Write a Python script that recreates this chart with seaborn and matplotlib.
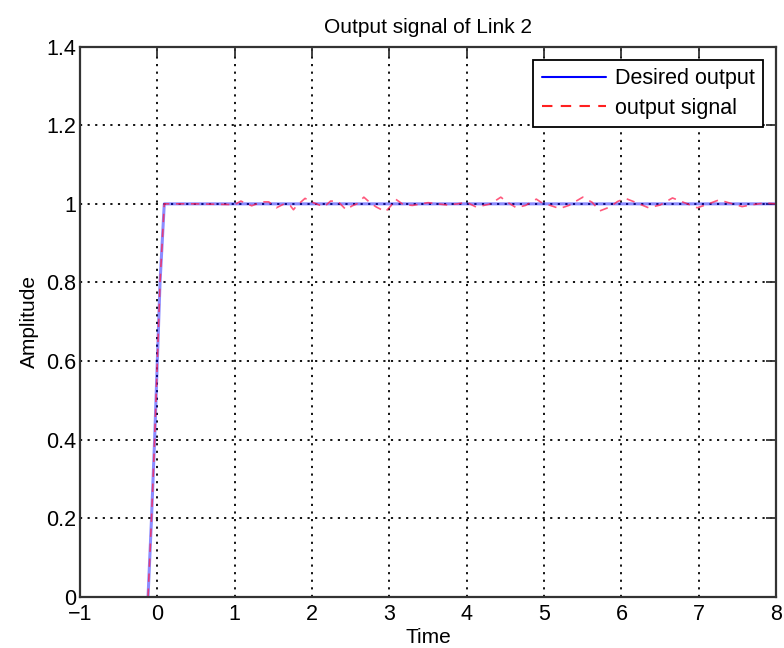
import matplotlib
matplotlib.use('Agg')
import matplotlib.pyplot as plt
import pandas as pd
import seaborn as sns
from matplotlib.lines import Line2D

sns.set_style('white')
plt.rcParams['font.family'] = ['Liberation Sans', 'DejaVu Sans']
plt.rcParams['text.color'] = 'black'
plt.rcParams['axes.labelcolor'] = 'black'
plt.rcParams['xtick.color'] = 'black'
plt.rcParams['ytick.color'] = 'black'

# desired output: steep ramp then flat at 1
desired_t = [-0.12, -0.075, -0.035, 0.0, 0.035, 0.09, 8.0]
desired_y = [0.0, 0.2, 0.4, 0.6, 0.8, 1.0, 1.0]

output_t = [-0.12, -0.075, -0.035, 0.0, 0.035, 0.09, 0.5, 1.0, 1.08, 1.22,
            1.35, 1.44, 1.54, 1.64, 1.72, 1.76, 1.8, 1.91, 1.99, 2.08,
            2.16, 2.24, 2.33, 2.44, 2.52, 2.58, 2.67, 2.75, 2.83, 2.95,
            3.02, 3.08, 3.18, 3.3, 3.5, 3.62, 3.75, 3.88, 4.0, 4.12,
            4.22, 4.31, 4.44, 4.52, 4.64, 4.76, 4.9, 4.96, 5.05, 5.2,
            5.32, 5.5, 5.62, 5.72, 5.85, 5.95, 6.05, 6.18, 6.35, 6.5,
            6.66, 6.8, 6.98, 7.1, 7.26, 7.4, 7.56, 7.7, 7.85, 8.0]
output_y = [0.0, 0.2, 0.4, 0.6, 0.8, 1.0, 1.0, 0.998, 1.007, 0.995,
            1.005, 1.005, 0.99, 1.0, 0.995, 0.985, 0.995, 1.014, 1.005, 0.998,
            0.993, 1.007, 1.007, 0.985, 0.995, 1.0, 1.017, 1.003, 0.992, 0.98,
            0.995, 1.012, 0.998, 0.996, 1.003, 1.0, 0.997, 1.0, 1.004, 0.992,
            0.996, 1.0, 1.017, 1.005, 0.99, 0.996, 1.012, 1.004, 0.998, 0.988,
            0.996, 1.017, 1.004, 0.982, 0.992, 1.006, 1.014, 1.004, 0.99, 0.997,
            1.015, 1.004, 0.99, 0.998, 1.01, 1.002, 0.993, 0.998, 1.002, 1.0]

desired_df = pd.DataFrame({'Time': desired_t, 'Amplitude': desired_y})
output_df = pd.DataFrame({'Time': output_t, 'Amplitude': output_y})

fig = plt.figure(figsize=(7.84, 6.48), dpi=100)
ax = fig.add_axes([0.102, 0.079, 0.888, 0.849])

sns.lineplot(data=desired_df, x='Time', y='Amplitude', sort=False, ax=ax,
             color='#0000ff', alpha=0.45, linewidth=2.2)
sns.lineplot(data=output_df, x='Time', y='Amplitude', sort=False, ax=ax,
             color='#ff2050', alpha=0.75, linewidth=1.2, dashes=False)
ax.lines[-1].set_dashes((5, 4))

ax.set_xlim(-1, 8)
ax.set_ylim(0, 1.4)
ax.set_xticks(range(-1, 9))
ax.set_yticks([0, 0.2, 0.4, 0.6, 0.8, 1.0, 1.2, 1.4])
ax.set_yticklabels(['0', '0.2', '0.4', '0.6', '0.8', '1', '1.2', '1.4'])
ax.set_xticklabels(['\u22121'] + [str(i) for i in range(0, 9)])

ax.grid(True, color='black', linestyle=(0, (1.2, 3.0)), linewidth=1.3)
for s in ax.spines.values():
    s.set_visible(True)
    s.set_color('#333333')
    s.set_linewidth(1.6)
ax.tick_params(direction='in', length=7, width=1.3, color='#333333',
               top=True, right=True, labelsize=15.5)
ax.tick_params(axis='x', pad=5)
ax.tick_params(axis='y', pad=3)

ax.set_title('Output signal of Link 2', fontsize=15, pad=10)
ax.set_xlabel('Time', fontsize=15, labelpad=2)
ax.set_ylabel('Amplitude', fontsize=15, labelpad=5)

handles = [Line2D([], [], color='#0000ff', linewidth=1.5),
           Line2D([], [], color='#ff2020', linewidth=1.5, dashes=(5, 4))]
leg = ax.legend(handles, ['Desired output', 'output signal'], loc='upper right',
                fontsize=15.5, fancybox=False, framealpha=1, edgecolor='black',
                handlelength=3.0, borderaxespad=0.6, labelspacing=0.4,
                handletextpad=0.4, borderpad=0.4)
leg.get_frame().set_linewidth(1.3)

fig.savefig('out.png', dpi=100)
